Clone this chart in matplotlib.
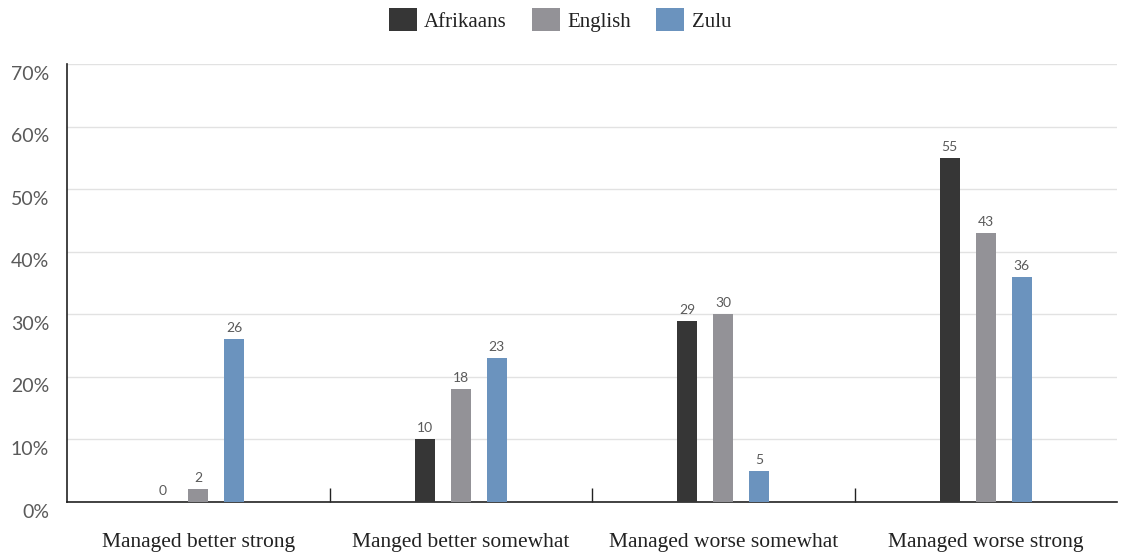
import matplotlib
matplotlib.use("Agg")
import matplotlib.pyplot as plt
import matplotlib.transforms as mtransforms
import numpy as np

categories = ["Managed better strong", "Manged better somewhat", "Managed worse somewhat", "Managed worse strong"]
series_names = ["Afrikaans", "English", "Zulu"]
afrikaans = [0, 10, 29, 55]
english = [2, 18, 30, 43]
zulu = [26, 23, 5, 36]
colors = ["#363636", "#939297", "#6b93be"]
yticks = [0, 10, 20, 30, 40, 50, 60, 70]
ytick_labels = ["0%", "10%", "20%", "30%", "40%", "50%", "60%", "70%"]

fig = plt.figure(figsize=(11.28, 5.58), dpi=100)
ax = fig.add_axes([67/1128, 1-502/558, (1117-67)/1128, (502-64)/558])

x = np.arange(len(categories))
width = 0.076
step = 0.137
data = [afrikaans, english, zulu]
for i, (name, vals, c) in enumerate(zip(series_names, data, colors)):
    pos = x + (i - 1) * step
    bars = ax.bar(pos, vals, width, color=c, label=name, zorder=3)
    for b, v in zip(bars, vals):
        ax.text(b.get_x() + b.get_width()/2, v + 0.8, str(v), ha="center", va="bottom",
                fontsize=10, color="#5a5a5a", family="Lato", zorder=4)

ax.set_xlim(-0.5, len(categories) - 0.5)
ax.set_ylim(0, 70)
ax.set_yticks(yticks)
ax.set_yticklabels([])
ax.tick_params(axis="y", length=0)
offset = mtransforms.ScaledTranslation(-18/100, -10/100, fig.dpi_scale_trans)
ytrans = ax.get_yaxis_transform() + offset
for v, lab in zip(yticks, ytick_labels):
    ax.text(0, v, lab, transform=ytrans, ha="right", va="center", family="Lato",
            fontsize=14, color="#5a5a5a", clip_on=False)
ax.yaxis.grid(True, color="#e2e2e2", linewidth=1, zorder=0)
ax.set_axisbelow(True)

ax.set_xticks(x)
ax.set_xticklabels(categories, family="Liberation Serif", fontsize=15.5, color="#222222")
ax.tick_params(axis="x", which="major", length=0, pad=22)
ax.set_xticks(np.arange(0.5, len(categories) - 0.5, 1), minor=True)
ax.tick_params(axis="x", which="minor", direction="in", length=10, width=1, color="#222222")

for s in ["top", "right"]:
    ax.spines[s].set_visible(False)
ax.spines["left"].set_color("#222222")
ax.spines["bottom"].set_color("#222222")
ax.spines["left"].set_linewidth(1.2)
ax.spines["bottom"].set_linewidth(1.2)

leg = fig.legend(loc="center", bbox_to_anchor=(560/1128, 1-20/558), ncol=3, frameon=False,
                 prop={"family": "Liberation Serif", "size": 15}, handlelength=1.35, handleheight=1.3,
                 handletextpad=0.35, columnspacing=1.2)
for t in leg.get_texts():
    t.set_color("#222222")

fig.savefig("out.png", dpi=100)
